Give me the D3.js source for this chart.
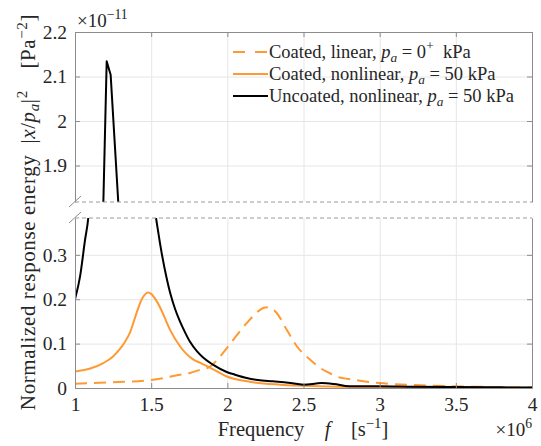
<!DOCTYPE html>
<html>
<head>
<meta charset="utf-8">
<script src="https://cdn.jsdelivr.net/npm/d3@7"></script>
<style>
  body { margin: 0; background: #fff; }
  text { font-family: "Liberation Serif", "Times New Roman", serif; fill: #262626; }
  .grid line { stroke: #e6e6e6; stroke-width: 1; }
  .grid path { display: none; }
  .ax path, .ax line { stroke: #8c8c8c; stroke-width: 1; }
  .ax text { font-size: 19.5px; }
  .brk { stroke: #9a9a9a; stroke-width: 1; stroke-dasharray: 4,3; }
  .slash { stroke: #8c8c8c; stroke-width: 1; }
  .legend text { font-size: 18.5px; }
</style>
</head>
<body>
<div id="viz"></div>
<script>
//MARGIN CONVENTION
var MARGIN = { LEFT: 75, RIGHT: 9, TOP: 32, BOTTOM: 58 }
var CANVAS = { WIDTH: 541 - MARGIN.LEFT - MARGIN.RIGHT,
               HEIGHT: 446 - MARGIN.TOP - MARGIN.BOTTOM }
var GAP = 16
var PANEL = (CANVAS.HEIGHT - GAP) / 2

//DATA (values in units of 1e-11 Pa^-2, frequency in 1e6 s^-1)
const linFreq  = [1.0, 1.25, 1.5, 1.69, 1.755, 1.82, 1.886, 1.952, 2.04, 2.127, 2.215, 2.24, 2.263, 2.29, 2.324, 2.39, 2.456, 2.543, 2.61, 2.652, 2.74, 2.784, 3.0, 3.27, 3.53, 4.0]
const linVal   = [0.0095, 0.013, 0.018, 0.030, 0.034, 0.041, 0.048, 0.071, 0.109, 0.146, 0.176, 0.181, 0.182, 0.179, 0.169, 0.131, 0.094, 0.064, 0.045, 0.037, 0.0235, 0.021, 0.011, 0.006, 0.0036, 0.001]

const nlFreq   = [1.0, 1.1, 1.186, 1.25, 1.295, 1.33, 1.36, 1.405, 1.44, 1.46, 1.481, 1.50, 1.53, 1.558, 1.624, 1.689, 1.777, 1.82, 1.886, 1.996, 2.13, 2.35, 2.6, 3.0, 3.5, 4.0]
const nlVal    = [0.037, 0.044, 0.056, 0.071, 0.088, 0.105, 0.124, 0.170, 0.201, 0.211, 0.215, 0.212, 0.199, 0.182, 0.131, 0.094, 0.064, 0.057, 0.046, 0.026, 0.015, 0.0075, 0.004, 0.002, 0.001, 0.0005]

const uncFreq  = [1.0, 1.033, 1.066, 1.087, 1.11, 1.135, 1.16, 1.185, 1.208, 1.234, 1.284, 1.33, 1.38, 1.43, 1.48, 1.532, 1.569, 1.60, 1.624, 1.657, 1.689, 1.72, 1.755, 1.80, 1.843, 1.908, 1.996, 2.05, 2.127, 2.2, 2.3, 2.4, 2.5, 2.62, 2.7, 2.8, 3.0, 3.2, 3.5, 3.8, 4.0]
const uncVal   = [0.200, 0.251, 0.334, 0.383, 0.50, 0.70, 1.05, 1.80, 2.134, 2.104, 1.818, 1.30, 0.90, 0.66, 0.50, 0.383, 0.304, 0.250, 0.215, 0.178, 0.150, 0.127, 0.104, 0.083, 0.068, 0.052, 0.036, 0.030, 0.0225, 0.018, 0.015, 0.012, 0.0075, 0.011, 0.009, 0.004, 0.004, 0.003, 0.002, 0.0015, 0.001]

const xTicks      = [1, 1.5, 2, 2.5, 3, 3.5, 4]
const xTickLabels = ['1', '1.5', '2', '2.5', '3', '3.5', '4']
const yTicksUp    = [1.9, 2, 2.1, 2.2]
const yTicksLow   = [0, 0.1, 0.2, 0.3]
const yDomainUp   = [1.818, 2.2]
const yDomainLow  = [0, 0.383]

const SERIES = [
  { name: 'lin', freq: linFreq, val: linVal, colour: '#ff9933', dash: '12,7' },
  { name: 'nl',  freq: nlFreq,  val: nlVal,  colour: '#ff9933', dash: null },
  { name: 'unc', freq: uncFreq, val: uncVal, colour: '#000000', dash: null }
]

const svg = d3.select("#viz").append("svg")
  .attr("width", 541)
  .attr("height", 446)
const svgCanvas = svg.append("g")
  .attr("transform", `translate(${MARGIN.LEFT}, ${MARGIN.TOP})`)

//SCALES
const xScale = d3.scaleLinear().domain([1, 4]).range([0, CANVAS.WIDTH])
const yUp  = d3.scaleLinear().domain(yDomainUp).range([PANEL, 0])
const yLow = d3.scaleLinear().domain(yDomainLow).range([PANEL, 0])

const panels = [
  { id: 'up',  y: yUp,  top: 0,           ticks: yTicksUp,  curve: d3.curveLinear },
  { id: 'low', y: yLow, top: PANEL + GAP, ticks: yTicksLow, curve: d3.curveMonotoneX }
]

// tspan helper for simple math text
function richText(sel, parts) {
  parts.forEach(p => {
    const t = sel.append('tspan').text(p.t)
    if (p.i) t.attr('font-style', 'italic')
    if (p.sub) t.attr('font-size', '0.72em').attr('dy', 4)
    if (p.sup) t.attr('font-size', '0.72em').attr('dy', -8)
    if (p.back) t.attr('dy', p.back)
  })
}

panels.forEach(pn => {
  const g = svgCanvas.append('g').attr('transform', `translate(0, ${pn.top})`)

  // GRID
  g.append('g').attr('class', 'grid')
    .attr('transform', `translate(0, ${PANEL})`)
    .call(d3.axisBottom(xScale).tickValues(xTicks).tickSize(-PANEL).tickFormat(''))
  g.append('g').attr('class', 'grid')
    .call(d3.axisLeft(pn.y).tickValues(pn.ticks).tickSize(-CANVAS.WIDTH).tickFormat(''))

  // CLIP
  g.append('clipPath').attr('id', 'clip-' + pn.id)
    .append('rect').attr('width', CANVAS.WIDTH).attr('height', PANEL)

  const line = d3.line()
    .curve(pn.curve)
    .x(d => xScale(d[0]))
    .y(d => pn.y(d[1]))

  const gLines = g.append('g').attr('clip-path', `url(#clip-${pn.id})`)
  SERIES.forEach(s => {
    gLines.append('path')
      .attr('d', line(s.freq.map((f, i) => [f, s.val[i]])))
      .attr('fill', 'none')
      .attr('stroke', s.colour)
      .attr('stroke-width', 2)
      .attr('stroke-linejoin', 'round')
      .attr('stroke-dasharray', s.dash)
  })

  // AXES
  g.append('g').attr('class', 'ax')
    .call(d3.axisLeft(pn.y).tickValues(pn.ticks).tickSize(-5).tickSizeOuter(0).tickPadding(8).tickFormat(d3.format('')))
  g.append('g').attr('class', 'ax')
    .attr('transform', `translate(${CANVAS.WIDTH}, 0)`)
    .call(d3.axisRight(pn.y).tickValues(pn.ticks).tickSize(-5).tickSizeOuter(0).tickFormat(''))
  if (pn.id == 'up') {
    g.append('g').attr('class', 'ax')
      .call(d3.axisTop(xScale).tickValues(xTicks).tickSize(-5).tickSizeOuter(0).tickFormat(''))
  } else {
    g.append('g').attr('class', 'ax')
      .attr('transform', `translate(0, ${PANEL})`)
      .call(d3.axisBottom(xScale).tickValues(xTicks).tickSize(-5).tickSizeOuter(0).tickPadding(9)
        .tickFormat((d, i) => xTickLabels[i]))
  }
})

// BREAK
;[PANEL, PANEL + GAP].forEach(yb => {
  svgCanvas.append('line').attr('class', 'brk')
    .attr('x1', 0).attr('x2', CANVAS.WIDTH).attr('y1', yb).attr('y2', yb)
  svgCanvas.append('line').attr('class', 'slash')
    .attr('x1', -6).attr('y1', yb + 5).attr('x2', 6).attr('y2', yb - 6)
})

// LEGEND
const legend = svgCanvas.append('g').attr('class', 'legend')
  .attr('transform', `translate(${233 - MARGIN.LEFT}, ${52 - MARGIN.TOP})`)
const legendText = [
  [{ t: 'Coated, linear, ' }, { t: 'p', i: 1 }, { t: 'a', i: 1, sub: 1 }, { t: ' = 0', back: -4 }, { t: '+', sup: 1 }, { t: '  kPa', back: 8 }],
  [{ t: 'Coated, nonlinear, ' }, { t: 'p', i: 1 }, { t: 'a', i: 1, sub: 1 }, { t: ' = 50 kPa', back: -4 }],
  [{ t: 'Uncoated, nonlinear, ' }, { t: 'p', i: 1 }, { t: 'a', i: 1, sub: 1 }, { t: ' = 50 kPa', back: -4 }]
]
SERIES.forEach((s, i) => {
  const row = legend.append('g').attr('transform', `translate(0, ${i * 22})`)
  row.append('line')
    .attr('x1', 0).attr('x2', 35).attr('y1', 0).attr('y2', 0)
    .attr('stroke', s.colour).attr('stroke-width', 2)
    .attr('stroke-dasharray', s.dash ? '12,10' : null)
  richText(row.append('text').attr('x', 36).attr('y', 6).attr('xml:space', 'preserve'), legendText[i])
})

// LABELS
const xLabel = svg.append('text')
  .attr('x', 303).attr('y', 436)
  .attr('text-anchor', 'middle')
  .attr('font-size', 20.5)
richText(xLabel, [{ t: 'Frequency\u2003' }, { t: 'f', i: 1 }, { t: '\u2003[s' }, { t: '\u22121', sup: 1 }, { t: ']', back: 8 }])

const yLabel = svg.append('text')
  .attr('transform', `translate(35, ${MARGIN.TOP + CANVAS.HEIGHT / 2 + 2}) rotate(-90)`)
  .attr('text-anchor', 'middle')
  .attr('font-size', 21)
  .attr('letter-spacing', 0.6)
richText(yLabel, [{ t: 'Normalized response energy\u2002|' }, { t: 'x', i: 1 }, { t: '/' }, { t: 'p', i: 1 }, { t: 'a', i: 1, sub: 1 },
  { t: '|', back: -4 }, { t: '2', sup: 1 }, { t: '\u2003[Pa', back: 8 }, { t: '\u22122', sup: 1 }, { t: ']', back: 8 }])

const expUp = svg.append('text').attr('x', 77).attr('y', 27).attr('font-size', 19)
richText(expUp, [{ t: '\u00d710' }, { t: '\u221211', sup: 1 }])

const expX = svg.append('text').attr('x', 532).attr('y', 436).attr('font-size', 19).attr('text-anchor', 'end')
richText(expX, [{ t: '\u00d710' }, { t: '6', sup: 1 }])
</script>
</body>
</html>
